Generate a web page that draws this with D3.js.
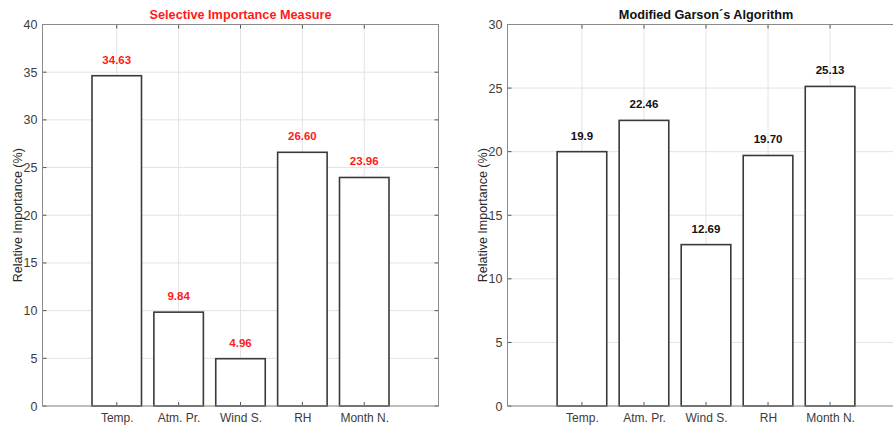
<!DOCTYPE html>
<html><head><meta charset="utf-8">
<script src="https://cdn.jsdelivr.net/npm/d3@7"></script>
<style>body{margin:0;background:#fff;} svg{display:block;}</style>
</head><body>
<svg id="c" width="893" height="429"></svg>
<script>
const categories = ["Temp.", "Atm. Pr.", "Wind S.", "RH", "Month N."];
const simValues = [34.63, 9.84, 4.96, 26.60, 23.96];
const simLabels = ["34.63", "9.84", "4.96", "26.60", "23.96"];
const mgaValues = [20.0, 22.46, 12.69, 19.70, 25.13];
const mgaLabels = ["19.9", "22.46", "12.69", "19.70", "25.13"];
const simTicks = [0, 5, 10, 15, 20, 25, 30, 35, 40];
const mgaTicks = [0, 5, 10, 15, 20, 25, 30];

const svg = d3.select("#c");
const font = "Liberation Sans, Arial, sans-serif";

function panel(opts) {
  const {x0, x1, y0, y1, values, labels, ticks, ymax, title, titleColor, labelColor} = opts;
  const g = svg.append("g");
  const x = d3.scaleLinear().domain([-0.2, 6.2]).range([x0, x1]);
  const xc = i => x(i + 1);
  const y = d3.scaleLinear().domain([0, ymax]).range([y1, y0]);
  const bw = x(0.8) - x(0);

  g.selectAll(".gy").data(ticks).join("line")
    .attr("x1", x0).attr("x2", x1)
    .attr("y1", d => y(d)).attr("y2", d => y(d))
    .attr("stroke", "#e3e3e3").attr("stroke-width", 1);
  g.selectAll(".gx").data(categories).join("line")
    .attr("x1", (d, i) => xc(i)).attr("x2", (d, i) => xc(i))
    .attr("y1", y0).attr("y2", y1)
    .attr("stroke", "#e3e3e3").attr("stroke-width", 1);

  g.selectAll(".bar").data(values).join("rect")
    .attr("x", (d, i) => xc(i) - bw / 2)
    .attr("width", bw)
    .attr("y", d => y(d))
    .attr("height", d => y(0) - y(d))
    .attr("fill", "#fff").attr("stroke", "#3a3a3a").attr("stroke-width", 1.6);

  g.selectAll(".vl").data(values).join("text")
    .attr("x", (d, i) => xc(i)).attr("y", d => y(d) - 12)
    .attr("text-anchor", "middle")
    .attr("font-family", font).attr("font-weight", "bold").attr("font-size", 11.5)
    .attr("fill", labelColor)
    .text((d, i) => labels[i]);

  const tl = 4;
  const tcol = "#555";
  ticks.forEach(t => {
    g.append("line").attr("x1", x0).attr("x2", x0 + tl).attr("y1", y(t)).attr("y2", y(t)).attr("stroke", tcol);
    g.append("line").attr("x1", x1).attr("x2", x1 - tl).attr("y1", y(t)).attr("y2", y(t)).attr("stroke", tcol);
  });
  categories.forEach((c, i) => {
    g.append("line").attr("x1", xc(i)).attr("x2", xc(i)).attr("y1", y1).attr("y2", y1 - tl).attr("stroke", tcol);
    g.append("line").attr("x1", xc(i)).attr("x2", xc(i)).attr("y1", y0).attr("y2", y0 + tl).attr("stroke", tcol);
  });

  g.append("rect").attr("x", x0).attr("y", y0).attr("width", x1 - x0).attr("height", y1 - y0)
    .attr("fill", "none").attr("stroke", "#8a8a8a").attr("stroke-width", 1);

  const ya = d3.axisLeft(y).tickValues(ticks).tickSize(0).tickPadding(5);
  const yg = g.append("g").attr("transform", `translate(${x0},0)`).call(ya);
  yg.select(".domain").remove();
  yg.selectAll("text").attr("font-family", font).attr("font-size", 12.5).attr("fill", "#3c3c3c");

  const xa = d3.axisBottom(d3.scalePoint().domain(categories).range([xc(0), xc(4)])).tickSize(0).tickPadding(7);
  const xg = g.append("g").attr("transform", `translate(0,${y1})`).call(xa);
  xg.select(".domain").remove();
  xg.selectAll("text").attr("font-family", font).attr("font-size", 12).attr("fill", "#3c3c3c");

  g.append("text")
    .attr("transform", `translate(${x0 - 21},${(y0 + y1) / 2}) rotate(-90)`)
    .attr("text-anchor", "middle")
    .attr("font-family", font).attr("font-size", 12.5).attr("fill", "#2a2a2a")
    .text("Relative Importance (%)");

  g.append("text")
    .attr("x", (x0 + x1) / 2).attr("y", y0 - 5.5)
    .attr("text-anchor", "middle")
    .attr("font-family", font).attr("font-weight", "bold").attr("font-size", 12.7)
    .attr("fill", titleColor)
    .text(title);
}

panel({x0: 42.5, x1: 438.5, y0: 24.5, y1: 406, values: simValues, labels: simLabels, ticks: simTicks, ymax: 40,
  title: "Selective Importance Measure", titleColor: "#ff1a1a", labelColor: "#ff1a1a"});
panel({x0: 507.5, x1: 904.5, y0: 24.5, y1: 406, values: mgaValues, labels: mgaLabels, ticks: mgaTicks, ymax: 30,
  title: "Modified Garson´s Algorithm", titleColor: "#111", labelColor: "#111"});
</script>
</body></html>
